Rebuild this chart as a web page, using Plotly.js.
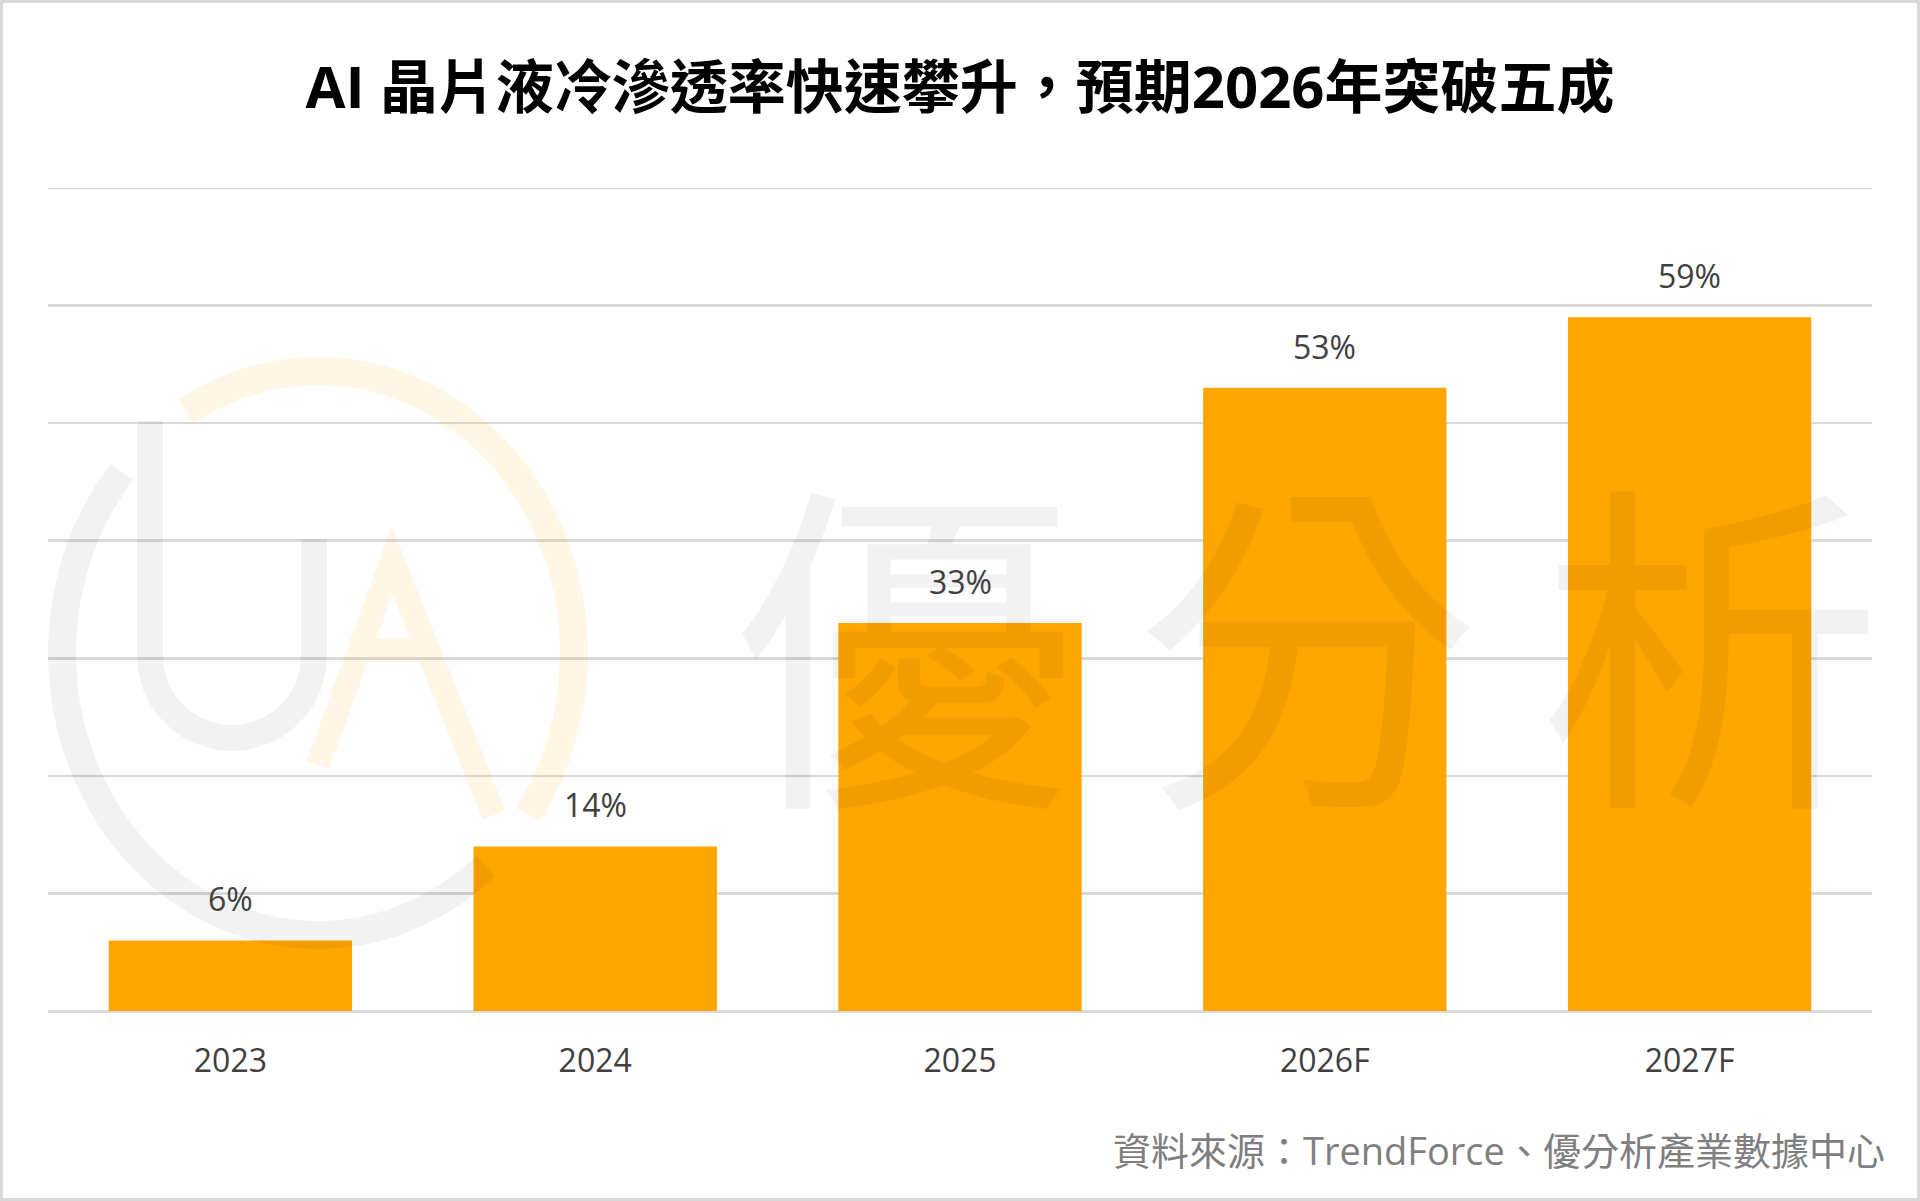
<!DOCTYPE html>
<html>
<head>
<meta charset="utf-8">
<script src="https://cdn.plot.ly/plotly-3.0.1.min.js"></script>
<style>
  html, body { margin: 0; padding: 0; background: #fff; }
  #chart { width: 1920px; height: 1201px; }
  #frame { position: fixed; left: 0; top: 0; width: 1920px; height: 1201px;
           box-sizing: border-box; border: 3px solid #d9d9d9; pointer-events: none; }
</style>
</head>
<body>
<div id="chart"></div>
<div id="frame"></div>
<script>
// data
var years = ['2023', '2024', '2025', '2026F', '2027F'];
var rates = [6, 14, 33, 53, 59];
var rateLabels = rates.map(function (v) { return v + '%'; });
var yMax = 70;

var W = 1920, H = 1201;
var M = {l: 48, r: 48, t: 188, b: 190};
var PW = W - M.l - M.r, PH = H - M.t - M.b;

// pixel -> paper, used only for the watermark decoration
function px(x) { return (x - M.l) / PW; }
function py(y) { return (H - M.b - y) / PH; }

function arcPath(cx, cy, rx, ry, a0, a1) {
  var d = '';
  for (var a = a0; a <= a1; a += 3) {
    var t = a * Math.PI / 180;
    d += (d ? ' L ' : 'M ') + px(cx + rx * Math.cos(t)) + ',' + py(cy + ry * Math.sin(t));
  }
  return d;
}

var grey = 'rgba(0,0,0,0.05)';
var amber = 'rgba(255,165,0,0.1)';

// watermark logo: U
var uPts = ['M ' + px(150) + ',' + py(421)];
for (var a = 180; a >= 0; a -= 6) {
  var t = a * Math.PI / 180;
  uPts.push('L ' + px(232 + 82 * Math.cos(t)) + ',' + py(656 + 82 * Math.sin(t)));
}
uPts.push('L ' + px(314) + ',' + py(539));
var uPath = uPts.join(' ');

// watermark logo: A
var aPath = 'M ' + px(318) + ',' + py(765) + ' L ' + px(392) + ',' + py(560) +
  ' L ' + px(494) + ',' + py(815) + ' M ' + px(360) + ',' + py(650) + ' L ' + px(428) + ',' + py(650);

var shapes = [
  // top gridline (plotly drops the one sitting on the plot edge)
  {type: 'line', xref: 'paper', yref: 'y', x0: 0, x1: 1, y0: yMax, y1: yMax,
   layer: 'below', line: {color: '#d9d9d9', width: 2.5}},
  {type: 'path', xref: 'paper', yref: 'paper', layer: 'above',
   path: arcPath(318, 653, 256, 282, 49, 221), line: {color: grey, width: 28}},
  {type: 'path', xref: 'paper', yref: 'paper', layer: 'above',
   path: arcPath(318, 653, 256, 282, 239, 395), line: {color: amber, width: 28}},
  {type: 'path', xref: 'paper', yref: 'paper', layer: 'above',
   path: uPath, line: {color: grey, width: 26}},
  {type: 'path', xref: 'paper', yref: 'paper', layer: 'above',
   path: aPath, line: {color: amber, width: 24}}
];

var annotations = [];
['優', '分', '析'].forEach(function (ch, i) {
  annotations.push({
    xref: 'paper', yref: 'paper', x: px(904 + i * 403), y: py(630),
    xanchor: 'center', yanchor: 'middle', showarrow: false, text: ch,
    font: {family: 'Noto Sans CJK TC', size: 345, color: grey}
  });
});

// value labels above the bars (category axis -> use the category index)
years.forEach(function (yr, i) {
  annotations.push({
    x: i, y: rates[i], xref: 'x', yref: 'y', yanchor: 'bottom', yshift: 18,
    showarrow: false, text: rateLabels[i],
    font: {family: 'Open Sans, Noto Sans CJK TC', size: 32, color: '#404040'}
  });
});

annotations.push({
  xref: 'paper', yref: 'paper', x: px(1887), y: py(1150),
  xanchor: 'right', yanchor: 'middle', showarrow: false,
  text: '資料來源：TrendForce、優分析產業數據中心',
  font: {family: 'Open Sans, Noto Sans CJK TC', size: 38, color: '#7f7f7f'}
});

var trace = {
  type: 'bar',
  x: years,
  y: rates,
  marker: {color: '#FFA500'},
  hoverinfo: 'x+y'
};

var layout = {
  width: W, height: H,
  margin: M,
  paper_bgcolor: '#ffffff',
  plot_bgcolor: '#ffffff',
  bargap: 0.333,
  showlegend: false,
  title: {
    text: '<b>AI 晶片液冷滲透率快速攀升，預期2026年突破五成</b>',
    font: {family: 'Open Sans, Noto Sans CJK TC', size: 58, color: '#000000'},
    x: 0.5, xanchor: 'center',
    xref: 'container', yref: 'container',
    y: 1 - 88 / H, yanchor: 'middle'
  },
  xaxis: {
    type: 'category',
    range: [-0.5, years.length - 0.5],
    showgrid: false,
    showline: false,
    ticks: 'outside', ticklen: 22, tickcolor: 'rgba(0,0,0,0)',
    tickfont: {family: 'Open Sans, Noto Sans CJK TC', size: 32, color: '#404040'}
  },
  yaxis: {
    range: [0, yMax],
    dtick: 10,
    showticklabels: false,
    gridcolor: '#d9d9d9', gridwidth: 2.5,
    zeroline: true, zerolinecolor: '#d9d9d9', zerolinewidth: 3,
    fixedrange: true
  },
  shapes: shapes,
  annotations: annotations
};

Plotly.newPlot('chart', [trace], layout, {displayModeBar: false, staticPlot: true});
</script>
</body>
</html>
